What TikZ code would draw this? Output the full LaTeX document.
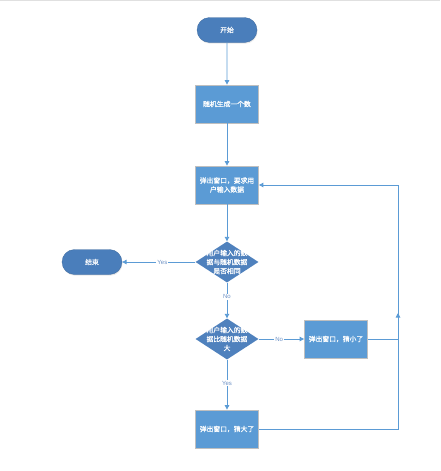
\documentclass[tikz,border=0pt]{standalone}
\usepackage{fontspec}
\newfontfamily\cjk{Noto Sans CJK SC}[FakeBold=0.6]
\newfontfamily\labfont{Liberation Sans}
\usetikzlibrary{shapes.geometric,shapes.misc,arrows.meta,shadows}
\definecolor{termblue}{HTML}{4A7EBB}
\definecolor{diablue}{HTML}{4F81BD}
\definecolor{boxblue}{HTML}{5B9BD5}
\definecolor{linec}{HTML}{5B9BD5}
\definecolor{boxedge}{HTML}{BFBFBF}
\definecolor{labc}{HTML}{6F93C6}
\tikzset{
  x=1pt, y=-1pt,
  txt/.style={text=white, font=\cjk\fontsize{6.8}{9}\selectfont, align=center, inner sep=0pt},
  term/.style={txt, rounded rectangle, fill=termblue, draw=termblue!85!black, line width=0.3pt,
    minimum width=62pt, minimum height=25pt, inner sep=1pt,
    drop shadow={opacity=0.18, shadow xshift=0.6pt, shadow yshift=-1.2pt}},
  proc/.style={txt, rectangle, fill=boxblue, draw=boxedge, line width=0.8pt,
    minimum width=63pt, minimum height=38pt, inner sep=1pt,
    drop shadow={opacity=0.15, shadow xshift=0.6pt, shadow yshift=-1.2pt}},
  dec/.style={diamond, fill=diablue, draw=none, minimum width=63pt, minimum height=41pt, inner sep=0pt},
  conn/.style={draw=linec, line width=0.9pt, -{Triangle[width=4.5pt,length=4.5pt]}},
  plain/.style={draw=linec, line width=0.9pt},
  lab/.style={fill=white, text=labc, font=\labfont\fontsize{6}{7}\selectfont, inner sep=1pt}
}
\begin{document}
\begin{tikzpicture}
\useasboundingbox (0,0) rectangle (440,471);
\draw[black!12, line width=0.8pt] (0,0.5) -- (440,0.5);
\node[term] (start) at (227,30) {开始};
\node[proc] (gen) at (227,104) {随机生成一个数};
\node[proc] (ask) at (227,185) {弹出窗口，要求用\\户输入数据};
\node[dec] (d1) at (227,262) {};
\node[txt] (d1t) at (d1.center) {用户输入的数\\据与随机数据\\是否相同};
\node[term] (end) at (92,262) {结束};
\node[dec] (d2) at (227,339) {};
\node[txt] (d2t) at (d2.center) {用户输入的数\\据比随机数据\\大};
\node[proc] (small) at (336,339) {弹出窗口，猜小了};
\node[proc] (big) at (227,429) {弹出窗口，猜大了};
\coordinate (rs) at (398,339);
\coordinate (rsa) at (398,313);
\coordinate (rb) at (398,429);
\coordinate (rt) at (398,185);

\draw[conn] (start) -- (gen);
\draw[conn] (gen) -- (ask);
\draw[conn] (ask) -- (d1);
\draw[conn] (d1.west) -- node[lab, pos=0.45]{Yes} (end.east);
\draw[conn] (d1.south) -- node[lab, pos=0.4]{No} (d2.north);
\draw[conn] (d2.east) -- node[lab, pos=0.45]{No} (small.west);
\draw[conn] (d2.south) -- node[lab, pos=0.47]{Yes} (big.north);
\draw[plain] (small.east) -- (rs);
\draw[conn] (rs) -- (rsa);
\draw[conn] (big.east) -- (rb) -- (rt) -- (ask.east);
\end{tikzpicture}
\end{document}
